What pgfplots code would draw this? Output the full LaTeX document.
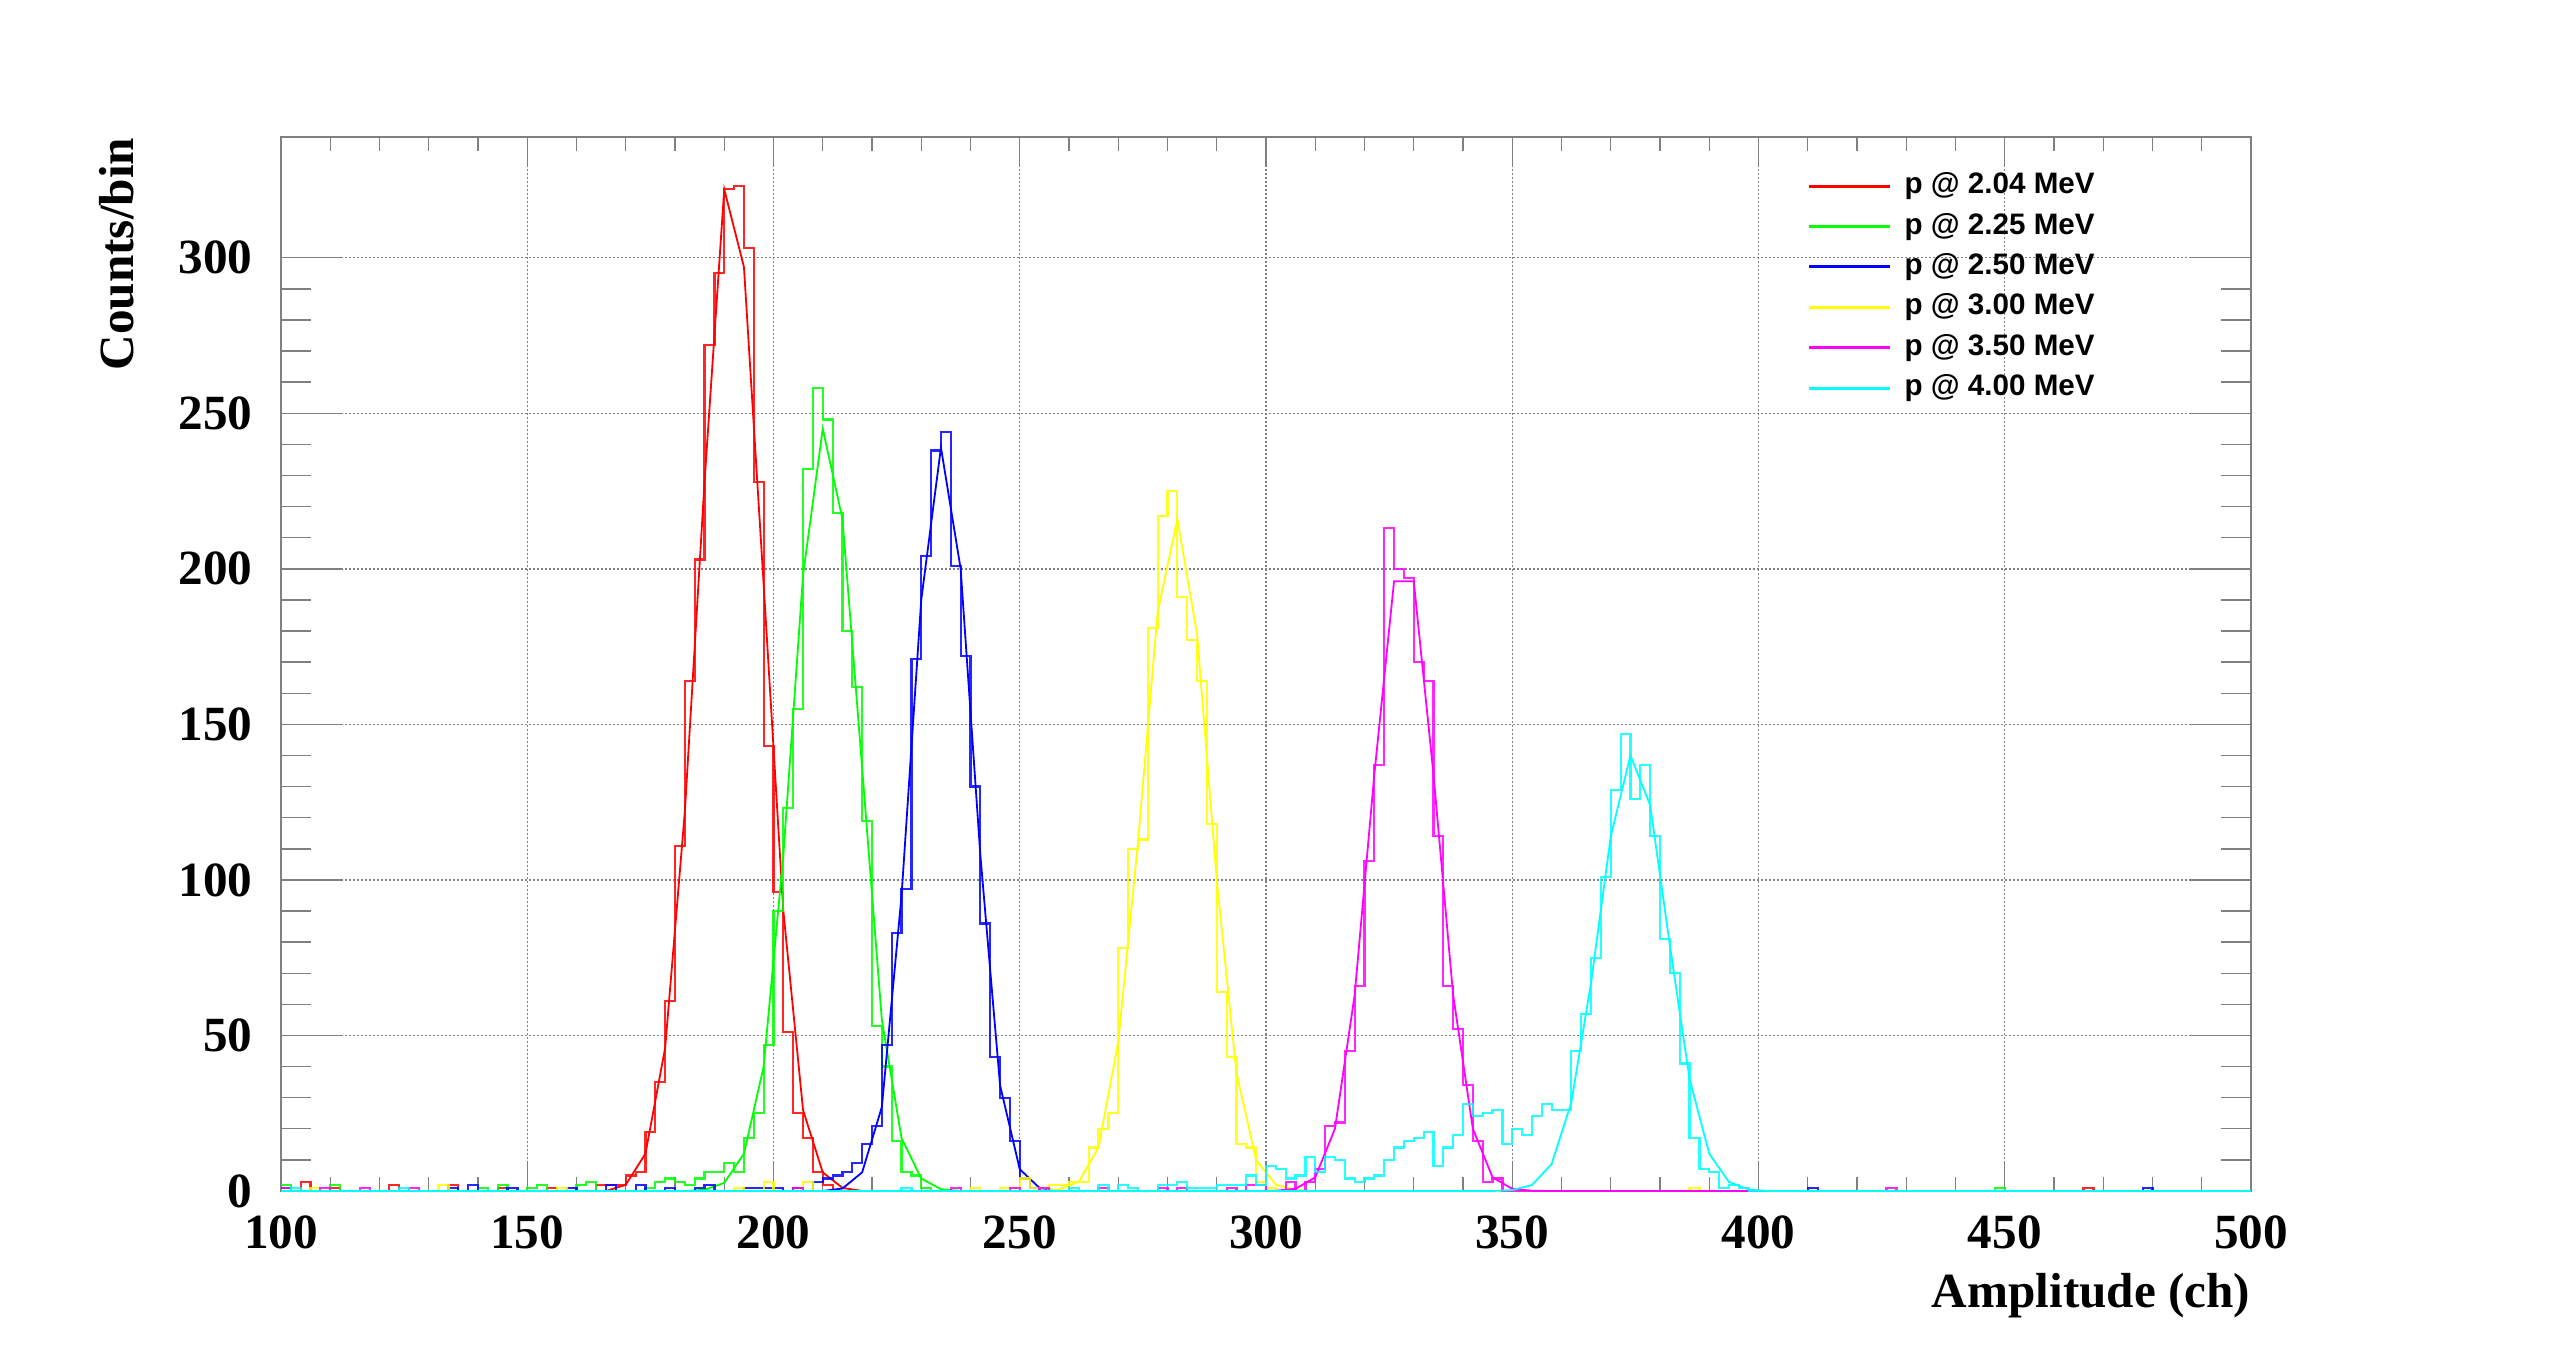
\documentclass[border=0pt]{standalone}
\usepackage{pgfplots}
\pgfplotsset{compat=1.18}
\usepackage{fontspec}
\setmainfont{Liberation Serif}
\newfontfamily\legfont{Liberation Sans}
\definecolor{axisgray}{RGB}{128,128,128}
\definecolor{rred}{RGB}{255,0,0}
\definecolor{rgreen}{RGB}{0,255,0}
\definecolor{rblue}{RGB}{0,0,255}
\definecolor{ryellow}{RGB}{255,255,0}
\definecolor{rmagenta}{RGB}{255,0,255}
\definecolor{rcyan}{RGB}{0,255,255}
\begin{document}
\begin{tikzpicture}
\path[use as bounding box] (-70.25pt,-42.75pt) rectangle (569.25pt,297.75pt);
\begin{axis}[
  at={(0pt,0pt)}, anchor=south west,
  scale only axis, width=492.5pt, height=263.5pt,
  xmin=100, xmax=500, ymin=0, ymax=338.8,
  xtick={100,150,...,500}, ytick={0,50,...,300},
  minor x tick num=4, minor y tick num=4,
  tick pos=both, tick align=inside,
  axis line style={draw=axisgray, line width=0.35pt},
  every tick/.style={draw=axisgray, line width=0.35pt},
  x tick style={/pgfplots/major tick length=7.5pt, /pgfplots/minor tick length=3.5pt},
  y tick style={/pgfplots/major tick length=15pt, /pgfplots/minor tick length=7.5pt},
  grid=major,
  major grid style={draw=axisgray, line width=0.35pt, dash pattern=on 0.45pt off 0.55pt},
  /pgf/number format/assume math mode=true,
  ticklabel style={font=\fontsize{12.3}{14}\selectfont\bfseries},
  xticklabel style={inner sep=0pt, yshift=-6pt},
  yticklabel style={inner sep=0pt, xshift=-6.9pt},
  xlabel={Amplitude (ch)}, ylabel={Counts/bin},
  label style={font=\fontsize{12.3}{14}\selectfont\bfseries},
  xlabel style={at={(axis description cs:1,-0.111)}, anchor=base east, inner sep=0pt},
  ylabel style={at={(axis description cs:-0.0749,1)}, anchor=base east, inner sep=0pt},
  clip=false,
  legend cell align=left,
  legend style={at={(0.7746,0.9675)}, anchor=north west, draw=none, fill=none,
    inner sep=0pt, row sep=3.1pt, column sep=3.2pt,
    nodes={inner sep=0pt, text height=5.4pt, text depth=1.6pt,
      font=\legfont\bfseries\fontsize{7.4}{8}\selectfont}},
  legend image code/.code={\draw[#1, line width=0.75pt, opacity=1] (0pt,0pt) -- (20.25pt,0pt);},
  hist/.style={const plot mark left, line width=0.55pt, opacity=0.85},
  fitl/.style={line width=0.45pt, forget plot},
]
% ---------- red: p @ 2.04 MeV ----------
\addplot[hist, rred] coordinates {
(100,0) (104,3) (106,0) (110,1) (112,0) (122,2) (124,0) (134,2) (136,0) (144,1) (146,0)
(154,1) (156,0) (164,2) (170,5) (172,6) (174,19) (176,35) (178,61) (180,111) (182,164)
(184,203) (186,272) (188,295) (190,322) (192,323) (194,303) (196,228) (198,143) (200,96)
(202,51) (204,25) (206,17) (208,6) (210,2) (212,0) (466,1) (468,0) (500,0)};
\addlegendentry{p @ 2.04 MeV}
\addplot[fitl, rred] coordinates {
(100,0) (166,0) (170,2) (174,12) (178,46) (182,122) (186,228) (190,322) (194,297)
(198,195) (202,90) (206,26) (210,6) (214,1) (218,0) (500,0)};
% ---------- green: p @ 2.25 MeV ----------
\addplot[hist, rgreen] coordinates {
(100,2) (102,0) (110,2) (112,0) (140,1) (142,0) (144,2) (146,0) (150,1) (152,2) (154,0)
(160,2) (162,3) (164,0) (174,1) (176,3) (178,4) (180,3) (182,2) (184,4) (186,6) (190,9)
(192,6) (194,17) (196,25) (198,47) (200,90) (202,123) (204,155) (206,232) (208,258)
(210,248) (212,218) (214,180) (216,162) (218,119) (220,53) (222,40) (224,16) (226,6)
(228,5) (230,1) (232,0) (448,1) (450,0) (500,0)};
\addlegendentry{p @ 2.25 MeV}
\addplot[fitl, rgreen] coordinates {
(100,0) (182,0) (186,0.4) (190,2.6) (194,12) (198,40) (202,108) (206,198) (210,245)
(214,216) (218,136) (222,55) (226,17) (230,4) (234,0.6) (238,0) (500,0)};
% ---------- blue: p @ 2.50 MeV ----------
\addplot[hist, rblue] coordinates {
(100,1) (102,0) (134,1) (136,0) (138,2) (140,0) (146,1) (148,0) (158,1) (160,0) (166,2)
(168,0) (172,2) (174,0) (178,1) (180,0) (184,1) (186,2) (188,0) (194,1) (202,0) (204,1)
(206,0) (208,3) (210,4) (212,5) (214,6) (216,9) (218,15) (220,21) (222,47) (224,83)
(226,97) (228,171) (230,204) (232,238) (234,244) (236,201) (238,172) (240,130) (242,86)
(244,43) (246,30) (248,16) (250,4) (252,1) (254,0) (410,1) (412,0) (478,1) (480,0) (500,0)};
\addlegendentry{p @ 2.50 MeV}
\addplot[fitl, rblue] coordinates {
(100,0) (210,0) (214,0.8) (218,6) (222,27) (226,95) (230,190) (234,239) (238,200)
(242,108) (246,34) (250,7) (254,1) (258,0) (500,0)};
% ---------- yellow: p @ 3.00 MeV ----------
\addplot[hist, ryellow] coordinates {
(100,0) (106,1) (108,0) (132,2) (134,0) (156,1) (158,0) (192,1) (194,0) (198,3) (200,0)
(206,3) (208,0) (240,1) (242,0) (246,1) (250,4) (252,1) (256,2) (260,3) (264,14) (266,20)
(268,25) (270,78) (272,110) (274,113) (276,181) (278,217) (280,225) (282,191) (284,177)
(286,164) (288,118) (290,64) (292,43) (294,15) (296,14) (298,3) (300,1) (302,0)
(386,1) (388,0) (500,0)};
\addlegendentry{p @ 3.00 MeV}
\addplot[fitl, ryellow] coordinates {
(100,0) (254,0) (258,0.5) (262,3) (266,14) (270,48) (274,112) (278,186) (282,216)
(286,179) (290,100) (294,38) (298,10) (302,2) (306,0.4) (310,0) (500,0)};
% ---------- magenta: p @ 3.50 MeV ----------
\addplot[hist, rmagenta] coordinates {
(100,1) (102,0) (108,1) (110,0) (116,1) (118,0) (126,1) (128,0) (204,1) (206,0) (236,1)
(238,0) (248,1) (250,0) (254,1) (256,0) (266,1) (268,0) (278,1) (280,0) (282,1) (284,0)
(292,1) (294,0) (296,2) (300,0) (304,3) (306,0) (308,3) (310,7) (312,21) (314,22)
(316,45) (318,66) (320,106) (322,137) (324,213) (326,200) (328,197) (330,170) (332,164)
(334,114) (336,66) (338,52) (340,34) (342,16) (344,3) (346,4) (348,0) (426,1) (428,0) (500,0)};
\addlegendentry{p @ 3.50 MeV}
\addplot[fitl, rmagenta] coordinates {
(100,0) (298,0) (302,0.1) (306,0.7) (310,4.4) (314,20) (318,63) (322,134) (326,196)
(330,196) (334,134) (338,63) (342,20) (346,4.4) (350,0.7) (354,0.1) (358,0) (500,0)};
% ---------- cyan: p @ 4.00 MeV ----------
\addplot[hist, rcyan] coordinates {
(100,0) (102,1) (104,0) (124,1) (126,0) (226,1) (228,0) (260,1) (262,0) (266,2) (268,0)
(270,2) (272,1) (274,0) (278,2) (282,3) (284,1) (290,2) (296,5) (298,2) (300,8) (302,7)
(304,4) (306,5) (308,11) (310,6) (312,11) (314,10) (316,4) (318,3) (320,4) (322,5)
(324,10) (326,14) (328,16) (330,17) (332,19) (334,8) (336,14) (338,18) (340,28) (342,24)
(344,25) (346,26) (348,15) (350,20) (352,18) (354,24) (356,28) (358,26) (362,45) (364,57)
(366,75) (368,101) (370,129) (372,147) (374,126) (376,137) (378,114) (380,81) (382,70)
(384,41) (386,17) (388,7) (390,6) (392,1) (394,2) (396,1) (398,0) (500,0)};
\addlegendentry{p @ 4.00 MeV}
\addplot[fitl, rcyan] coordinates {
(100,0) (346,0) (350,0.3) (354,1.9) (358,8.7) (362,28.5) (366,67) (370,114) (374,140)
(378,124) (382,79) (386,36) (390,12) (394,2.9) (398,0.5) (402,0) (500,0)};
\end{axis}
\end{tikzpicture}
\end{document}
